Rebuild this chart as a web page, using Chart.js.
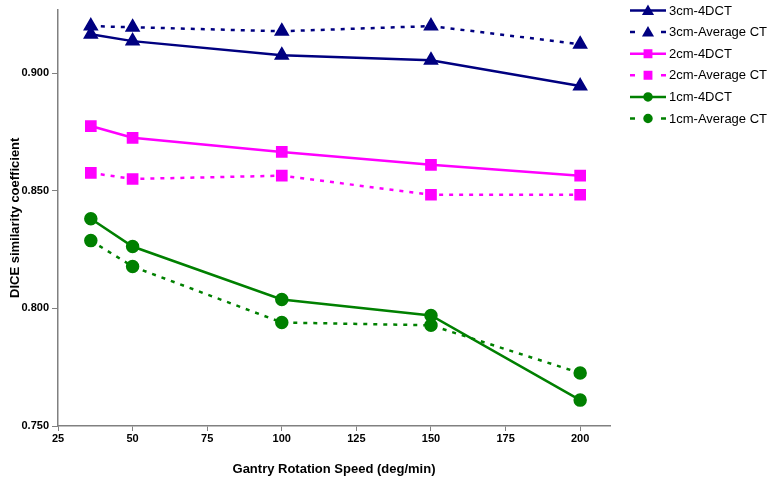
<!DOCTYPE html>
<html>
<head>
<meta charset="utf-8">
<script src="https://cdn.jsdelivr.net/npm/chart.js@4/dist/chart.umd.min.js"></script>
<style>
  html, body { margin: 0; padding: 0; background: #fff; }
  #wrap { width: 768px; height: 477px; }
</style>
</head>
<body>
<div id="wrap"><canvas id="diceChart" width="768" height="477"></canvas></div>
<script>
// gantry speeds (deg/min)
const speeds = [36, 50, 100, 150, 200];

const cm3_4dct = [0.9165, 0.9136, 0.9076, 0.9055, 0.8945];
const cm3_avg  = [0.9200, 0.9195, 0.9178, 0.9200, 0.9123];
const cm2_4dct = [0.8775, 0.8725, 0.8665, 0.8610, 0.8564];
const cm2_avg  = [0.8576, 0.8550, 0.8564, 0.8483, 0.8483];
const cm1_4dct = [0.8381, 0.8263, 0.8038, 0.7970, 0.7610];
const cm1_avg  = [0.8288, 0.8178, 0.7940, 0.7928, 0.7725];

const xTicks = [25, 50, 75, 100, 125, 150, 175, 200];
const yTicks = [0.750, 0.800, 0.850, 0.900];

const navy = '#000080', magenta = '#ff00ff', green = '#008000';
const dash = [4, 6];

function series(label, values, color, style, radius, dashed) {
    return {
        label: label,
        data: speeds.map((s, i) => ({ x: s, y: values[i] })),
        borderColor: color,
        backgroundColor: color,
        pointBackgroundColor: color,
        pointBorderColor: color,
        pointStyle: style,
        pointRadius: radius,
        borderWidth: 2.5,
        borderDash: dashed ? dash : [],
        tension: 0
    };
}

// legend drawn like the original: line segment with marker in the middle
const lineLegend = {
    id: 'lineLegend',
    afterDraw(chart) {
        const ctx = chart.ctx;
        const x0 = 630, x1 = 666, top = 10.5, row = 21.6;
        chart.data.datasets.forEach((ds, i) => {
            const y = top + i * row;
            ctx.save();
            ctx.strokeStyle = ds.borderColor;
            ctx.fillStyle = ds.borderColor;
            ctx.lineWidth = 2.5;
            ctx.beginPath();
            if (ds.borderDash.length) {
                ctx.moveTo(x0, y); ctx.lineTo(x0 + 5, y);
                ctx.moveTo(x1 - 5, y); ctx.lineTo(x1, y);
            } else {
                ctx.moveTo(x0, y); ctx.lineTo(x1, y);
            }
            ctx.stroke();
            const my = ds.pointStyle === 'triangle' ? y + 1 : y;
            Chart.helpers.drawPoint(ctx, {
                pointStyle: ds.pointStyle,
                radius: ds.pointStyle === 'circle' ? 3.5 : 4.5,
                borderWidth: 1
            }, (x0 + x1) / 2, my);
            ctx.restore();
            ctx.save();
            ctx.fillStyle = '#000';
            ctx.font = '13px "Liberation Sans", Arial, sans-serif';
            ctx.textBaseline = 'middle';
            ctx.fillText(ds.label, x1 + 3, y + 0.5);
            ctx.restore();
        });
    }
};

const ctx = document.getElementById('diceChart').getContext('2d');
Chart.defaults.font.family = '"Liberation Sans", Arial, sans-serif';
Chart.defaults.color = '#000';

new Chart(ctx, {
    type: 'line',
    data: {
        datasets: [
            series('3cm-4DCT', cm3_4dct, navy, 'triangle', 6.5, false),
            series('3cm-Average CT', cm3_avg, navy, 'triangle', 6.5, true),
            series('2cm-4DCT', cm2_4dct, magenta, 'rect', 6.5, false),
            series('2cm-Average CT', cm2_avg, magenta, 'rect', 6.5, true),
            series('1cm-4DCT', cm1_4dct, green, 'circle', 5.5, false),
            series('1cm-Average CT', cm1_avg, green, 'circle', 5.5, true)
        ]
    },
    options: {
        responsive: false,
        animation: false,
        layout: { padding: { top: 3, right: 158, left: 0, bottom: 0 } },
        plugins: {
            legend: { display: false },
            tooltip: { enabled: false }
        },
        scales: {
            x: {
                type: 'linear',
                min: 25,
                max: 210,
                afterBuildTicks: s => { s.ticks = xTicks.map(v => ({ value: v })); },
                afterFit: s => { s.height = 51; },
                grid: { drawOnChartArea: false, drawTicks: true, tickLength: 5, color: '#808080', lineWidth: 1 },
                border: { color: '#808080', width: 1.5 },
                ticks: { font: { size: 11, weight: 'bold' }, padding: 1, maxRotation: 0 },
                title: {
                    display: true,
                    text: 'Gantry Rotation Speed (deg/min)',
                    font: { size: 13, weight: 'bold' },
                    padding: { top: 14, bottom: 0 }
                }
            },
            y: {
                min: 0.75,
                max: 0.927,
                afterBuildTicks: s => { s.ticks = yTicks.map(v => ({ value: v })); },
                afterFit: s => { s.width = 58; },
                grid: { drawOnChartArea: false, drawTicks: true, tickLength: 6, color: '#808080', lineWidth: 1 },
                border: { color: '#808080', width: 1.5 },
                ticks: {
                    font: { size: 11, weight: 'bold' },
                    padding: 3,
                    callback: v => v.toFixed(3)
                },
                title: {
                    display: true,
                    text: 'DICE similarity coefficient',
                    font: { size: 13, weight: 'bold' },
                    padding: { top: 8, bottom: 2 }
                }
            }
        }
    },
    plugins: [lineLegend]
});
</script>
</body>
</html>
